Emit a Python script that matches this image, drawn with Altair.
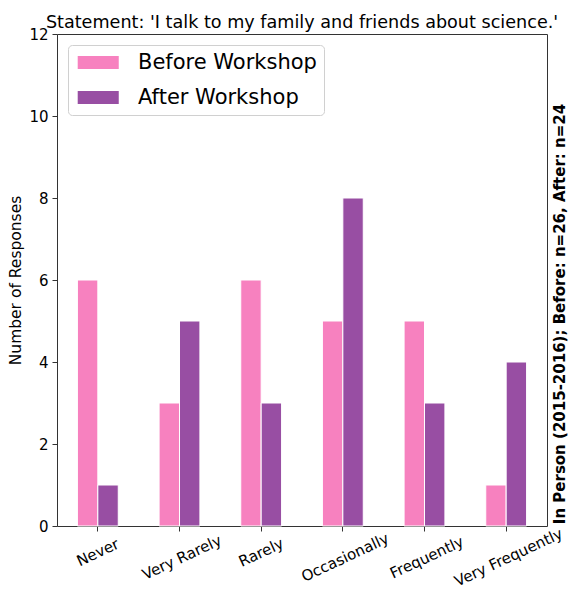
import altair as alt
import pandas as pd

categories = ["Never", "Very Rarely", "Rarely", "Occasionally", "Frequently", "Very Frequently"]
before = [6, 3, 6, 5, 5, 1]
after = [1, 5, 3, 8, 3, 4]
groups = ["Before Workshop", "After Workshop"]
colors = ["#f781bf", "#984ea3"]
title_text = "Statement: 'I talk to my family and friends about science.'"
side_note = "In Person (2015-2016); Before: n=26, After: n=24"
y_ticks = [0, 2, 4, 6, 8, 10, 12]

rows = []
for c, b, a in zip(categories, before, after):
    rows.append({"Category": c, "Group": groups[0], "Count": b})
    rows.append({"Category": c, "Group": groups[1], "Count": a})
df = pd.DataFrame(rows)

FONT = "DejaVu Sans"

# rotated labels: longer labels sit a little lower (as a centred, rotated box would)
label_expr = (
    "length(datum.label) >= 12 ? ['', '', datum.label] : "
    "(length(datum.label) >= 10 ? ['', datum.label] : datum.label)"
)

bars = alt.Chart(df).mark_bar(stroke="white", strokeWidth=1).encode(
    x=alt.X(
        "Category:N",
        sort=categories,
        scale=alt.Scale(paddingInner=0.5, paddingOuter=0.25),
        axis=alt.Axis(
            title=None,
            labelAngle=335,
            labelAlign="center",
            labelBaseline="middle",
            labelPadding=21,
            labelExpr=label_expr,
            labelLineHeight=5.5,
            labelOverlap=False,
            labelBound=False,
            labelFontSize=15,
            labelColor="black",
            labelFont=FONT,
            domain=False,
            tickSize=5,
            tickColor="#333333",
        ),
    ),
    xOffset=alt.XOffset("Group:N", sort=groups, scale=alt.Scale(domain=groups)),
    y=alt.Y(
        "Count:Q",
        scale=alt.Scale(domain=[0, 12], nice=False),
        axis=alt.Axis(
            title="Number of Responses",
            values=y_ticks,
            grid=False,
            domain=False,
            tickSize=5,
            tickColor="#333333",
            labelFontSize=15,
            labelColor="black",
            labelFont=FONT,
            labelPadding=4,
            titleFont=FONT,
            titleFontSize=15.5,
            titleFontWeight="normal",
            titleColor="black",
            titlePadding=5,
        ),
    ),
    color=alt.Color(
        "Group:N",
        sort=groups,
        scale=alt.Scale(domain=groups, range=colors),
        legend=alt.Legend(
            title=None,
            orient="none",
            legendX=11,
            legendY=11,
            symbolType="M-0.82,-0.684H3.5V0.684H-0.82Z",
            symbolSize=361,
            symbolStrokeWidth=0,
            symbolOpacity=1,
            labelFontSize=21,
            labelFont=FONT,
            labelColor="black",
            labelOffset=42,
            labelLimit=0,
            padding=7,
            rowPadding=13,
            fillColor="white",
            strokeColor="#d0d0d0",
            cornerRadius=4,
        ),
    ),
)

note = alt.Chart(pd.DataFrame({"t": [side_note]})).mark_text(
    angle=270,
    align="center",
    baseline="middle",
    fontSize=15,
    fontWeight="bold",
    font=FONT,
    color="black",
).encode(text="t:N", x=alt.value(503), y=alt.value(280))

chart = alt.layer(bars, note).properties(
    width=490,
    height=492,
    background="white",
    title=alt.TitleParams(
        title_text,
        font=FONT,
        fontSize=17.6,
        fontWeight="normal",
        color="black",
        anchor="middle",
        offset=-5,
    ),
    autosize=alt.AutoSizeParams(type="none"),
    padding={"left": 49, "top": 26, "right": 21, "bottom": 64},
).configure_view(stroke="#333333", strokeWidth=1)

chart.save("out.html", embed_options={"renderer": "svg", "actions": False})
